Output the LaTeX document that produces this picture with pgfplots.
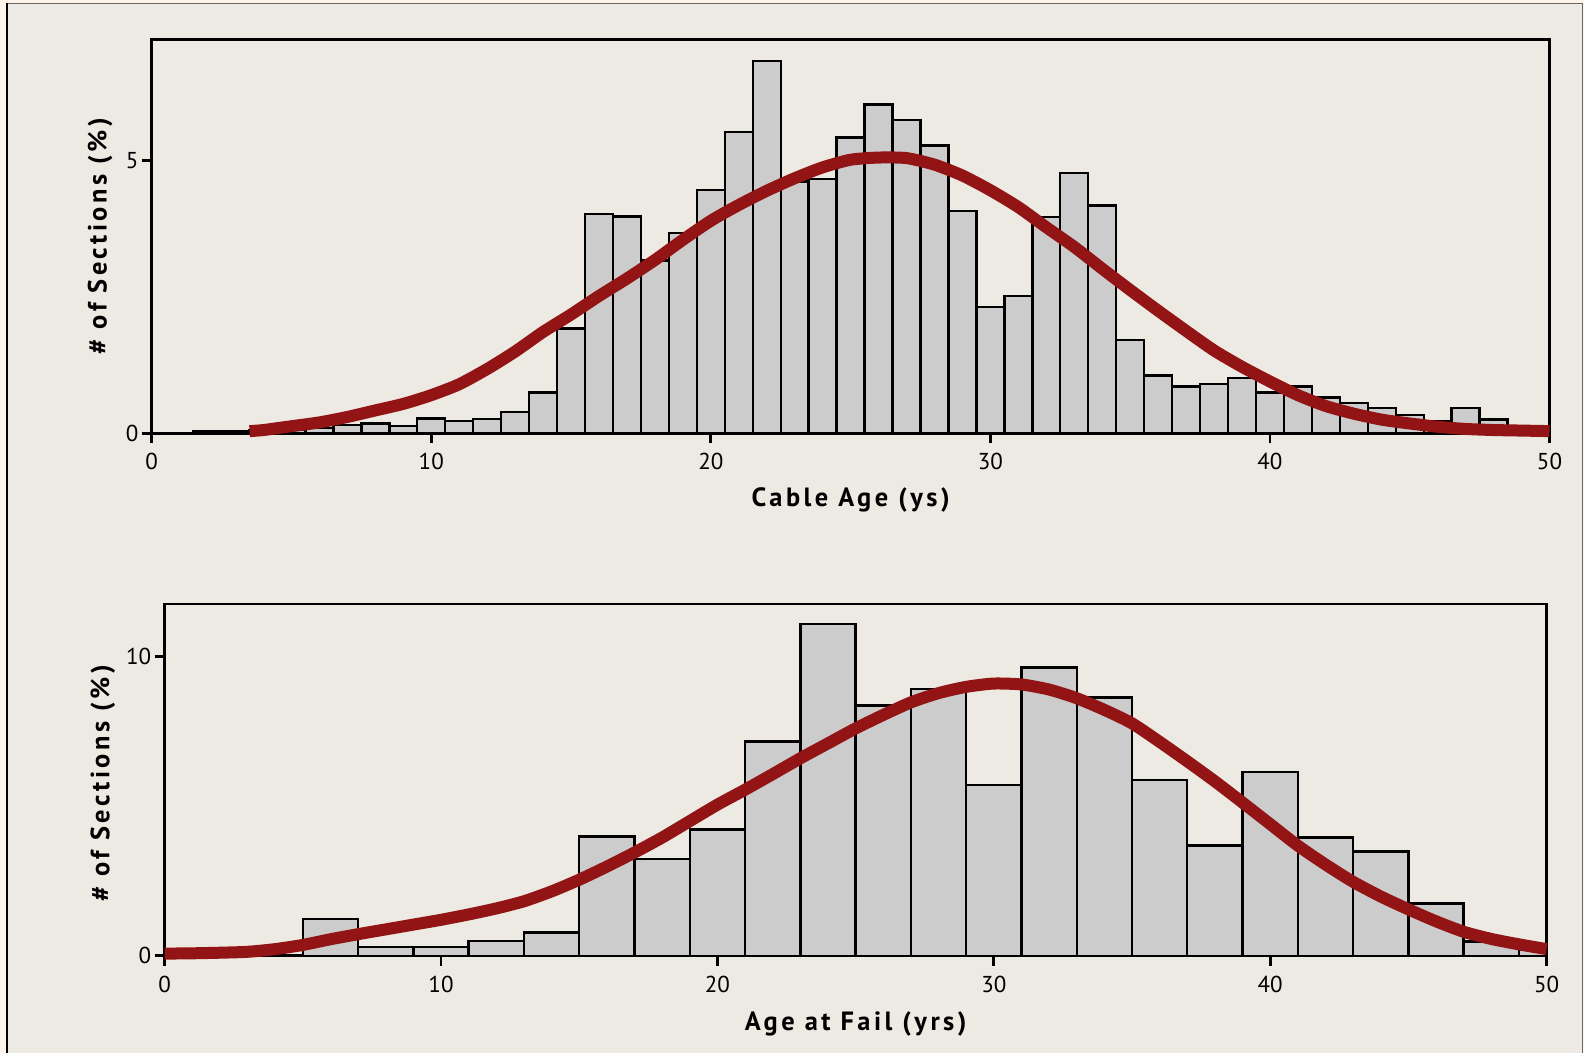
\documentclass[border=0pt]{standalone}
\usepackage{pgfplots}
\pgfplotsset{compat=1.18}
\usepackage{fontspec}
\setmainfont{PT Sans}
\newfontfamily\labfont[LetterSpace=13]{PT Sans}

\definecolor{panel}{RGB}{237,233,227}
\definecolor{barfill}{RGB}{204,204,204}
\definecolor{fitred}{RGB}{146,20,20}
\definecolor{peachlight}{RGB}{255,244,234}
\definecolor{peach}{RGB}{252,192,132}

% Cable age distribution (1-year bins, centred on whole years)
\pgfplotstableread{
x y
2 0.04
3 0.04
4 0.05
5 0.06
6 0.10
7 0.15
8 0.18
9 0.13
10 0.27
11 0.23
12 0.26
13 0.39
14 0.75
15 1.92
16 4.02
17 3.98
18 3.17
19 3.68
20 4.47
21 5.53
22 6.83
23 4.62
24 4.67
25 5.43
26 6.03
27 5.75
28 5.28
29 4.08
30 2.32
31 2.52
32 3.97
33 4.78
34 4.18
35 1.71
36 1.06
37 0.86
38 0.91
39 1.01
40 0.75
41 0.86
42 0.66
43 0.56
44 0.46
45 0.34
46 0.22
47 0.46
48 0.25
}\agebins

% Fitted curve for cable age
\pgfplotstableread{
x y
3.5 0.04
4 0.06
5 0.13
6 0.20
7 0.30
8 0.42
9 0.54
10 0.70
11 0.90
12 1.18
13 1.50
14 1.86
15 2.18
16 2.52
17 2.84
18 3.18
19 3.55
20 3.90
21 4.19
22 4.45
23 4.68
24 4.88
25 5.02
26 5.06
27 5.05
28 4.93
29 4.73
30 4.46
31 4.15
32 3.78
33 3.42
34 3.02
35 2.63
36 2.25
37 1.88
38 1.52
39 1.22
40 0.95
41 0.70
42 0.50
43 0.36
44 0.25
45 0.18
46 0.12
47 0.08
48 0.06
49 0.05
50 0.04
}\agefit

% Age at failure (2-year bins)
\pgfplotstableread{
x y
6 1.23
8 0.30
10 0.30
12 0.50
14 0.78
16 3.99
18 3.24
20 4.22
22 7.16
24 11.10
26 8.36
28 8.92
30 5.71
32 9.64
34 8.64
36 5.88
38 3.68
40 6.14
42 3.95
44 3.48
46 1.75
48 0.47
}\failbins

% Fitted curve for age at failure
\pgfplotstableread{
x y
0 0.07
1 0.08
2 0.10
3 0.13
4 0.22
5 0.36
6 0.55
7 0.72
8 0.88
9 1.04
10 1.20
11 1.38
12 1.58
13 1.82
14 2.15
15 2.54
16 2.98
17 3.45
18 3.95
19 4.50
20 5.05
21 5.55
22 6.07
23 6.60
24 7.10
25 7.60
26 8.05
27 8.47
28 8.78
29 8.99
30 9.10
31 9.07
32 8.90
33 8.61
34 8.22
35 7.77
36 7.15
37 6.50
38 5.83
39 5.12
40 4.40
41 3.68
42 3.05
43 2.47
44 1.98
45 1.55
46 1.15
47 0.80
48 0.56
49 0.38
50 0.22
}\failfit

\pgfplotsset{
  hist/.style={
    scale only axis,
    clip=false,
    xmin=0, xmax=50, ymin=0,
    xtick={0,10,...,50},
    tick align=outside,
    xtick pos=left, ytick pos=left,
    major tick length=5pt,
    axis line style={line width=1.4pt, black},
    every tick/.style={line width=1.4pt, black},
    /pgf/number format/assume math mode=true,
    tick label style={font=\fontsize{11.5}{13}\selectfont},
    xticklabel style={yshift=-1.5pt},
    yticklabel style={inner xsep=1.5pt},
    label style={font=\labfont\bfseries\fontsize{13.2}{15}\selectfont},
    xlabel style={anchor=center},
    ylabel style={anchor=center, rotate=0},
  },
  binbars/.style={ybar, bar shift=0pt, fill=barfill, draw=black, line width=1.2pt},
  fitline/.style={fitred, line width=6pt, smooth, tension=0.4, line join=round, line cap=butt},
}

\begin{document}
\begin{tikzpicture}
\useasboundingbox (0pt,0pt) rectangle (792pt,-526.5pt);
% page edge strip and panel
\shade[top color=peachlight, middle color=peach, bottom color=peachlight]
  (0pt,0pt) rectangle (792pt,-526.5pt);
\fill[panel] (3.6pt,-2pt) rectangle (791pt,-527pt);
\draw[black!60, line width=0.5pt] (3.6pt,-2pt) -- (791pt,-2pt) -- (791pt,-527pt);
\draw[black, line width=1.1pt] (3.6pt,-527pt) -- (3.6pt,-1.7pt);

\begin{axis}[hist,
  at={(75.85pt,-216.65pt)}, anchor=south west,
  width=698.9pt, height=197pt,
  ymax=7.23, ytick={0,5},
  xlabel={Cable Age (ys)},
  ylabel={\# of Sections (\%)},
  xlabel style={at={(axis description cs:0.5,-0.1693)}},
  ylabel style={at={(axis description cs:-0.037,0.5)}},
]
\addplot[binbars, bar width=1] table[x=x, y=y] {\agebins};
\addplot[fitline] table[x=x, y=y] {\agefit};
\end{axis}

\begin{axis}[hist,
  at={(82.3pt,-477.85pt)}, anchor=south west,
  width=691pt, height=175.85pt,
  ymax=11.76, ytick={0,10},
  xlabel={Age at Fail (yrs)},
  ylabel={\# of Sections (\%)},
  xlabel style={at={(axis description cs:0.5,-0.1942)}},
  ylabel style={at={(axis description cs:-0.0446,0.49)}},
]
\addplot[binbars, bar width=2] table[x=x, y=y] {\failbins};
\addplot[binbars, bar width=1] coordinates {(49.5,0.20)};
\addplot[fitline] table[x=x, y=y] {\failfit};
\end{axis}
\end{tikzpicture}
\end{document}
